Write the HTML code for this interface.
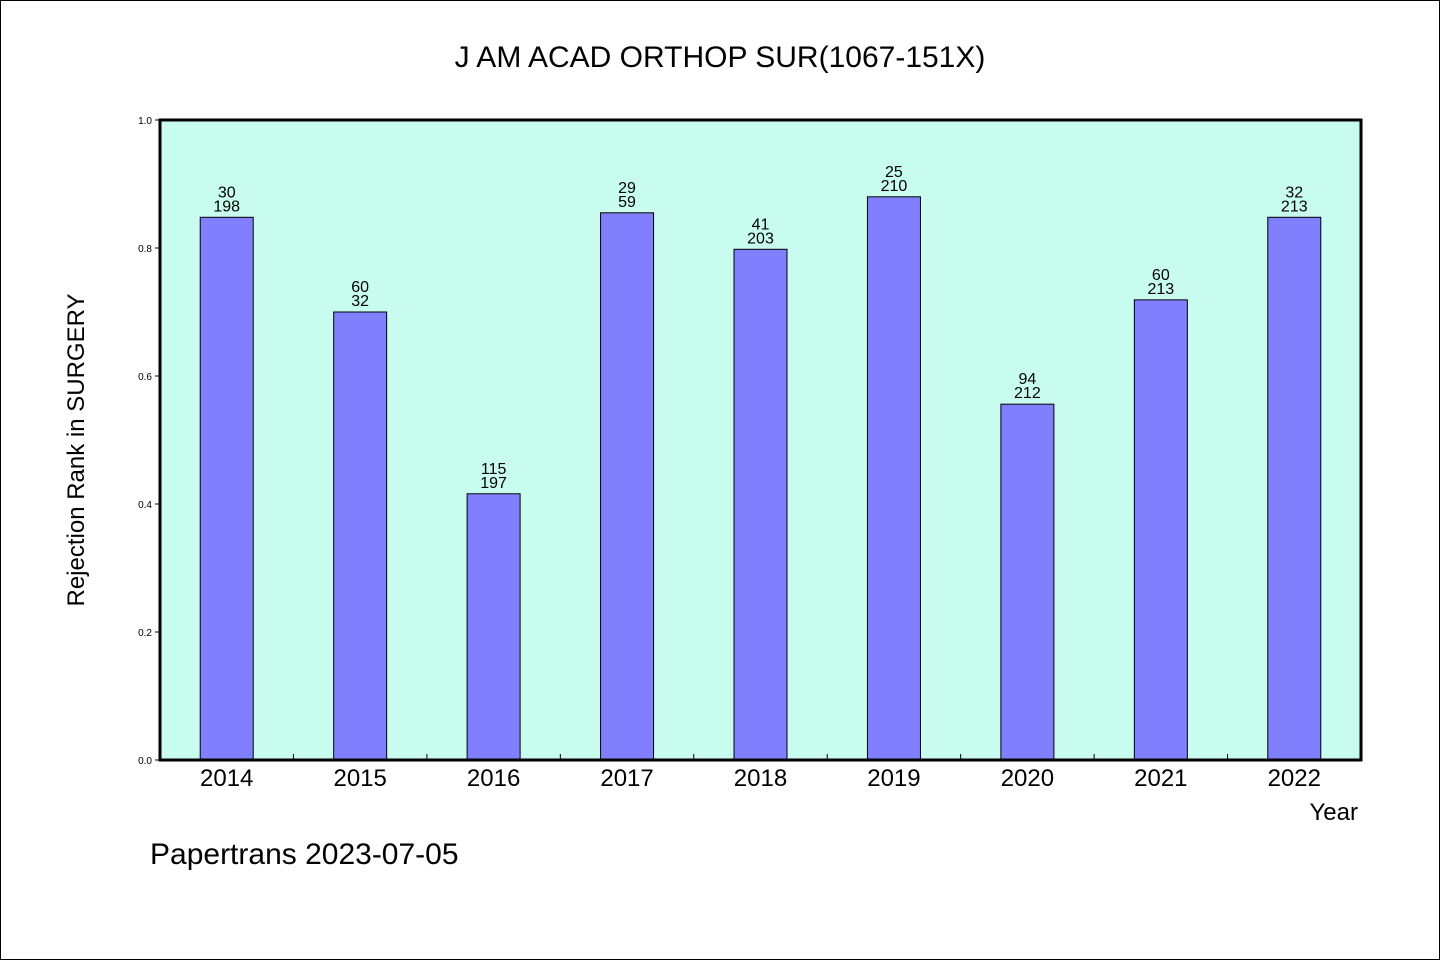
<!DOCTYPE html>
<html><head><meta charset="utf-8"><style>
html,body{margin:0;padding:0;background:#fff}
svg{display:block}
text{font-family:"WenQuanYi Zen Hei","Liberation Sans",sans-serif;fill:#000}
</style></head><body>
<svg id="chart" width="1440" height="960" xmlns="http://www.w3.org/2000/svg">
<rect x="0.5" y="0.5" width="1439" height="959" fill="#fff" stroke="#000"/>
<text x="720" y="67" font-size="30" text-anchor="middle">J AM ACAD ORTHOP SUR(1067-151X)</text>
<rect x="160" y="120" width="1201" height="640" fill="#c8fcef"/>
<g id="bars"></g>
<rect x="160" y="120" width="1201" height="640" fill="none" stroke="#000" stroke-width="3"/>
<g id="axes"></g>
<text x="1358" y="820" font-size="24" text-anchor="end">Year</text>
<text transform="translate(84,450) rotate(-90)" font-size="24" text-anchor="middle">Rejection Rank in SURGERY</text>
<text x="150" y="864" font-size="30">Papertrans 2023-07-05</text>
</svg>
<script>
const categories=["2014","2015","2016","2017","2018","2019","2020","2021","2022"];
const values=[0.848,0.70,0.416,0.855,0.798,0.88,0.556,0.719,0.848];
const topLabels=["30","60","115","29","41","25","94","60","32"];
const bottomLabels=["198","32","197","59","203","210","212","213","213"];
const yTicks=[0,0.2,0.4,0.6,0.8,1.0];
const yTickLabels=["0.0","0.2","0.4","0.6","0.8","1.0"];
const NS="http://www.w3.org/2000/svg";
const L=160,R=1361,T=120,B=760;
const step=(R-L)/categories.length;
const xc=i=>L+step*(i+0.5);
const y=v=>B-(v-0)/(1-0)*(B-T);
const bars=document.getElementById('bars'),axes=document.getElementById('axes');
function mk(tag,attrs,parent){const e=document.createElementNS(NS,tag);for(const k in attrs)e.setAttribute(k,attrs[k]);parent.appendChild(e);return e;}
categories.forEach((c,i)=>{
  const bw=53,yt=y(values[i]);
  const r=mk('rect',{x:xc(i)-bw/2,y:yt,width:bw,height:B-yt,fill:'#8080ff',stroke:'#000','stroke-width':1},bars);
  
  
  const t1=mk('text',{x:xc(i),y:yt-20,'font-size':16,'text-anchor':'middle'},bars);t1.textContent=topLabels[i];
  
  
  const t2=mk('text',{x:xc(i),y:yt-6,'font-size':16,'text-anchor':'middle'},bars);t2.textContent=bottomLabels[i];
  
  
  const xl=mk('text',{x:xc(i),y:786,'font-size':24,'text-anchor':'middle'},axes);xl.textContent=c;
  
  
  if(i>0){const tk=mk('line',{x1:L+step*i,x2:L+step*i,y1:B,y2:B-6,stroke:'#000','stroke-width':1},axes);
  
  }
});
yTicks.forEach((v,i)=>{
  const tk=mk('line',{x1:L-5,x2:L,y1:y(v),y2:y(v),stroke:'#000','stroke-width':1},axes);
  
  
  const t=mk('text',{x:152,y:y(v)+4,'font-size':10,'text-anchor':'end'},axes);t.textContent=yTickLabels[i];
  
  
});
</script>
</body></html>
